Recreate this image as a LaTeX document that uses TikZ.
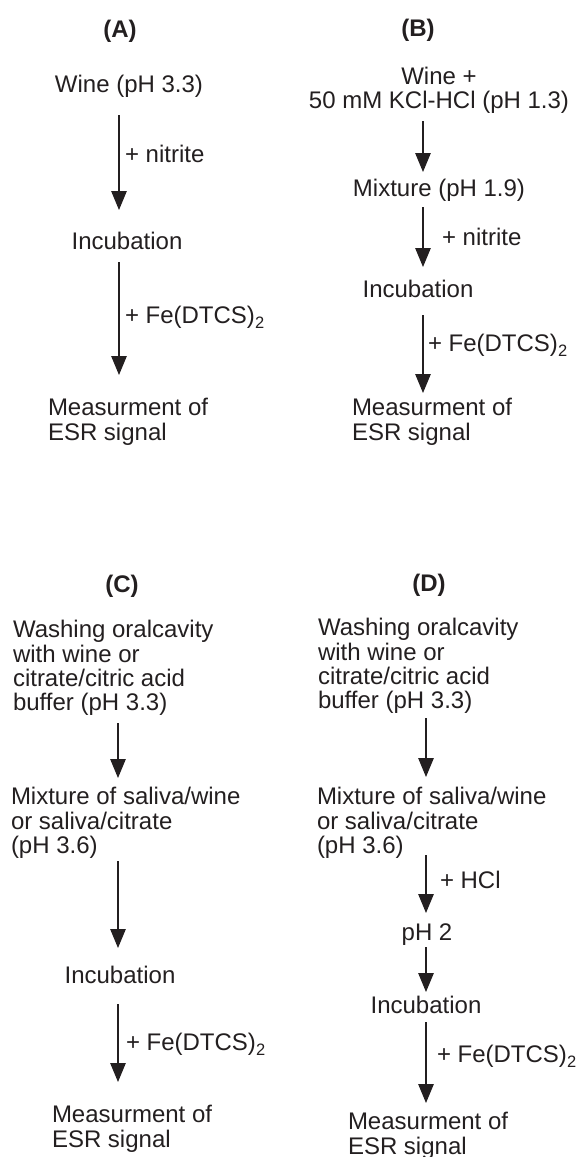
\documentclass[tikz,border=0pt]{standalone}
\usepackage{fontspec}
\setmainfont{Liberation Sans}
\usetikzlibrary{arrows.meta,calc}
\definecolor{ink}{HTML}{231F20}
\newcommand{\subtwo}{\raisebox{-5pt}{\fontsize{16.5}{16.5}\selectfont 2}}
\begin{document}
\begin{tikzpicture}[x=1pt,y=-1pt,
  every node/.style={inner sep=0pt, outer sep=0pt, text=ink, font=\fontsize{24}{24.2}\selectfont},
  lbl/.style={font=\fontsize{24}{24.2}\selectfont\bfseries, anchor=base},
  one/.style={text height=17.5pt, text depth=5pt, anchor=base},
  onel/.style={text height=17.5pt, text depth=5pt, anchor=base west},
  multi/.style={align=left, anchor=north west},
  arr/.style={draw=ink, line width=1.2pt, -{Triangle[length=19pt,width=15.5pt]}}]
\useasboundingbox (0,0) rectangle (580,1157);
% column axes
\coordinate (colA) at (119,0);
\coordinate (colB) at (423,0);
\coordinate (colC) at (118,0);
\coordinate (colD) at (426,0);
% (A)
\node[lbl] (labA) at (120,37) {(A)};
\node[one] (wineA) at (129,92) {Wine (pH 3.3)};
\node[onel] (nitA) at (125,162) {+ nitrite};
\node[one] (incA) at (127,249) {Incubation};
\node[onel] (feA) at (125,323) {+ Fe(DTCS)\subtwo};
\node[multi] (measA) at (48,398.5) {Measurment of\\ESR signal};
% (B)
\node[lbl] (labB) at (418,36) {(B)};
\node[align=center, anchor=north] (wineB) at (439,66.8) {Wine +\\50 mM KCl-HCl (pH 1.3)};
\node[one] (mixB) at (439,196) {Mixture (pH 1.9)};
\node[onel] (nitB) at (442,245) {+ nitrite};
\node[one] (incB) at (418,297) {Incubation};
\node[onel] (feB) at (428,351) {+ Fe(DTCS)\subtwo};
\node[multi] (measB) at (352,398.5) {Measurment of\\ESR signal};
% (C)
\node[lbl] (labC) at (122,592) {(C)};
\node[multi] (washC) at (13,620.5) {Washing oralcavity\\with wine or\\citrate/citric acid\\buffer (pH 3.3)};
\node[multi] (mixC) at (11,787.5) {Mixture of saliva/wine\\or saliva/citrate\\(pH 3.6)};
\node[one] (incC) at (120,983) {Incubation};
\node[onel] (feC) at (126,1050) {+ Fe(DTCS)\subtwo};
\node[multi] (measC) at (52,1105.5) {Measurment of\\ESR signal};
% (D)
\node[lbl] (labD) at (429,591) {(D)};
\node[multi] (washD) at (318,618.5) {Washing oralcavity\\with wine or\\citrate/citric acid\\buffer (pH 3.3)};
\node[multi] (mixD) at (317,787.5) {Mixture of saliva/wine\\or saliva/citrate\\(pH 3.6)};
\node[onel] (hclD) at (440,888) {+ HCl};
\node[one] (ph2D) at (427,940) {pH 2};
\node[one] (incD) at (426,1013) {Incubation};
\node[onel] (feD) at (437,1062) {+ Fe(DTCS)\subtwo};
\node[multi] (measD) at (348,1112.5) {Measurment of\\ESR signal};
% arrows
\draw[arr] ($(wineA.south -| colA)+(0,18)$) -- ($(incA.north -| colA)+(0,-21.5)$);
\draw[arr] ($(incA.south -| colA)+(0,8)$) -- ($(measA.north -| colA)+(0,-23.5)$);
\draw[arr] ($(wineB.south -| colB)+(0,8)$) -- ($(mixB.north -| colB)+(0,-6.5)$);
\draw[arr] ($(mixB.south -| colB)+(0,6)$) -- ($(incB.north -| colB)+(0,-12.5)$);
\draw[arr] ($(incB.south -| colB)+(0,13)$) -- ($(measB.north -| colB)+(0,-5.5)$);
\draw[arr] ($(washC.south -| colC)+(0,8)$) -- ($(mixC.north -| colC)+(0,-9.5)$);
\draw[arr] ($(mixC.south -| colC)+(0,3)$) -- ($(incC.north -| colC)+(0,-17.5)$);
\draw[arr] ($(incC.south -| colC)+(0,16)$) -- ($(measC.north -| colC)+(0,-23.5)$);
\draw[arr] ($(washD.south -| colD)+(0,5)$) -- ($(mixD.north -| colD)+(0,-10.5)$);
\draw[arr] ($(mixD.south -| colD)+(0,-3)$) -- ($(ph2D.north -| colD)+(0,-9.5)$);
\draw[arr] ($(ph2D.south -| colD)+(0,2)$) -- ($(incD.north -| colD)+(0,-3.5)$);
\draw[arr] ($(incD.south -| colD)+(0,4)$) -- ($(measD.north -| colD)+(0,-9.5)$);
\end{tikzpicture}
\end{document}
